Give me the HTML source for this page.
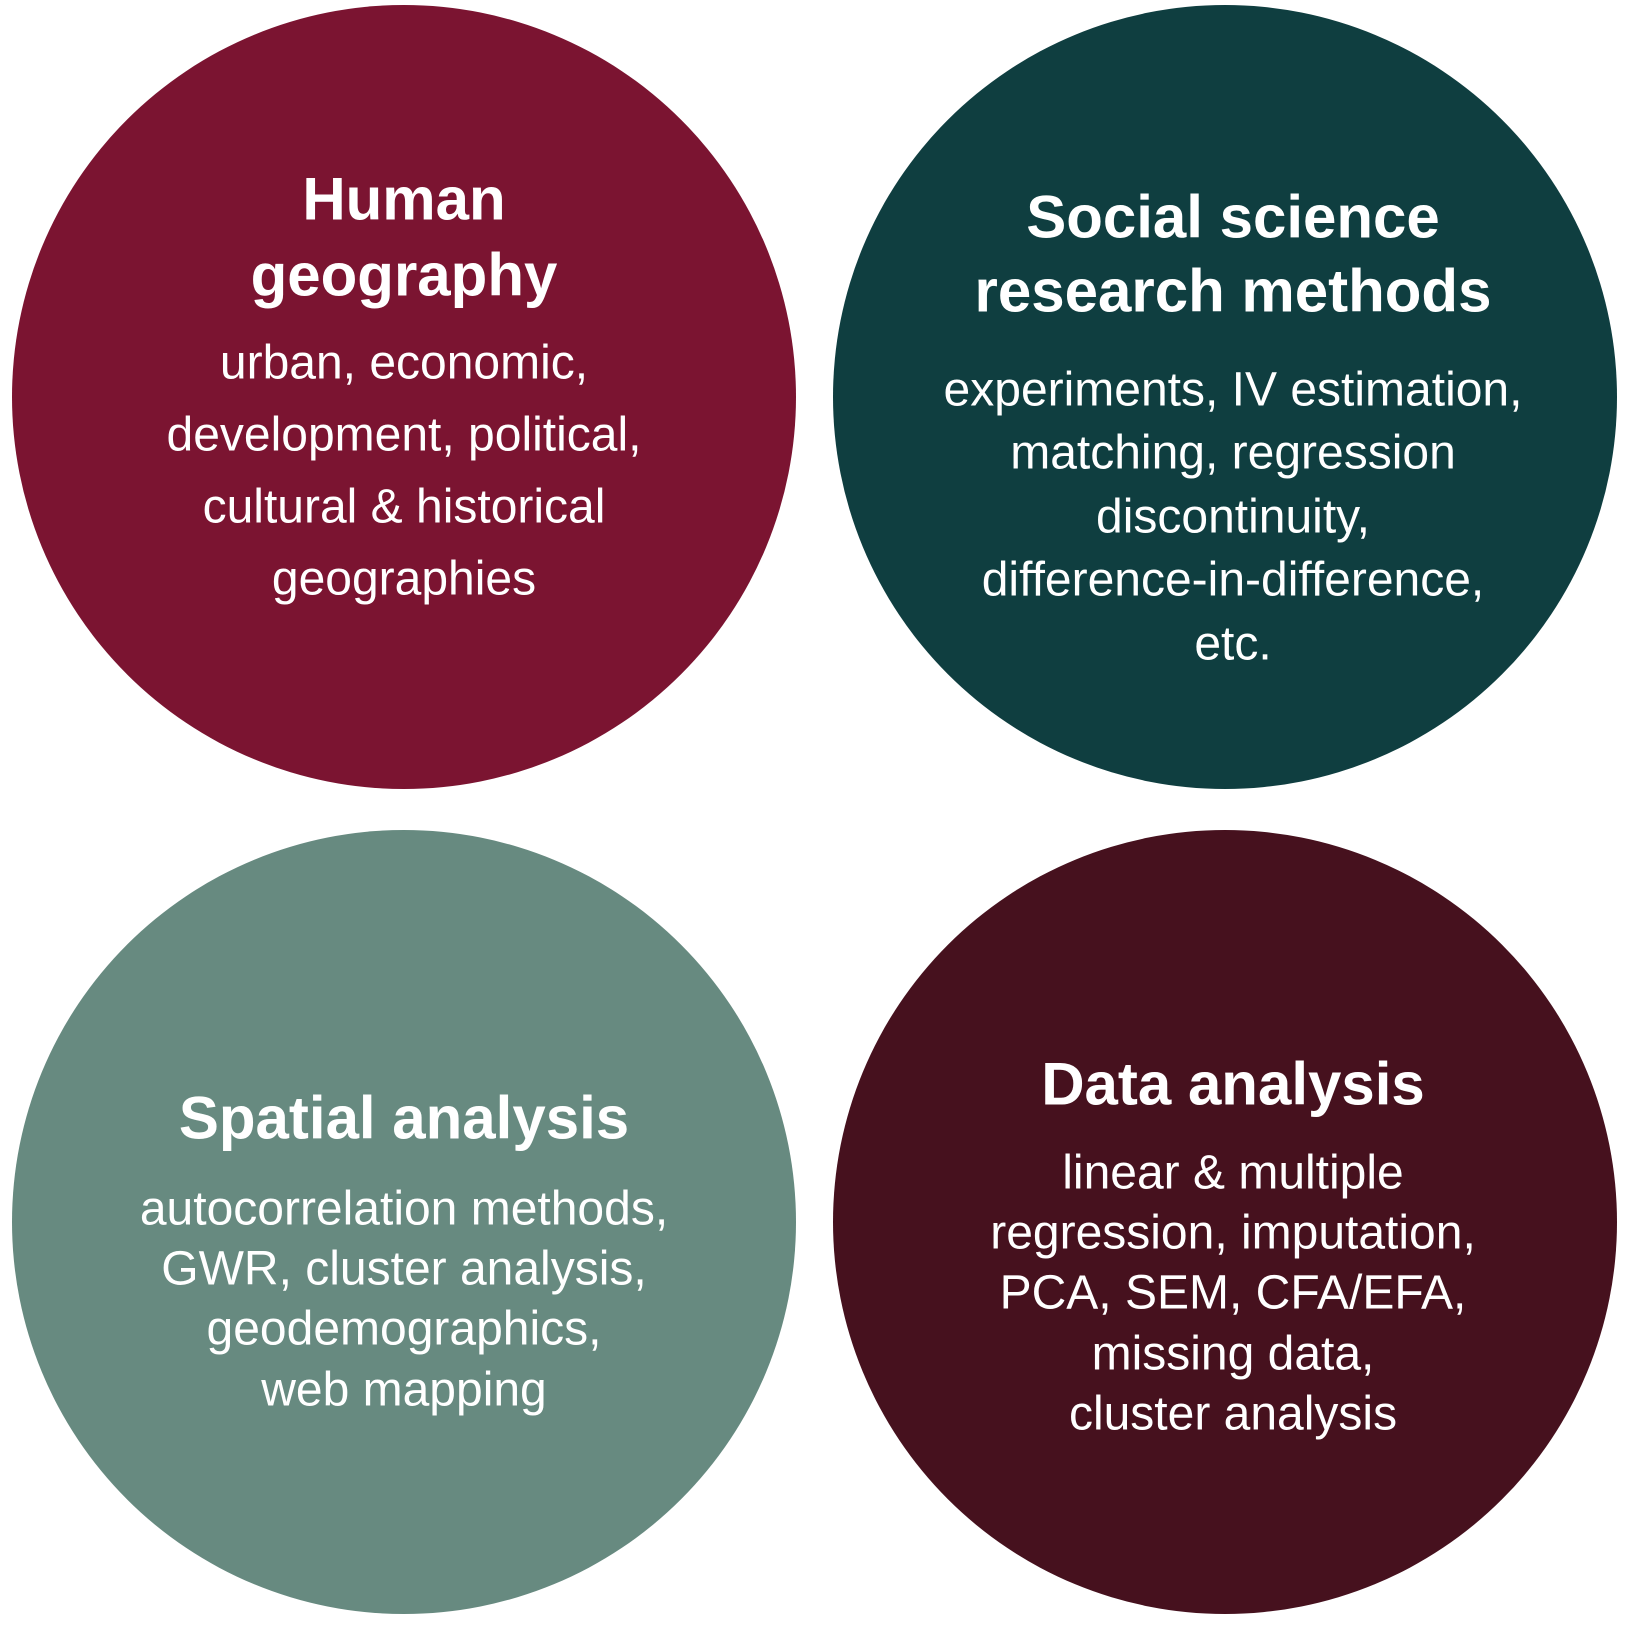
<!DOCTYPE html>
<html><head><meta charset="utf-8"><style>
html,body{margin:0;padding:0;background:#fff;width:1641px;height:1650px;overflow:hidden}
svg{display:block}
text{font-family:"Liberation Sans",Arial,sans-serif;fill:#fff;text-anchor:middle;dominant-baseline:central}
.t{font-weight:bold;font-size:60px}
.b{font-size:48px}
</style></head><body>
<svg width="1641" height="1650" viewBox="0 0 1641 1650">
<g>
<circle cx="404" cy="397" r="392" fill="#7b1431"/>
<text class="t" x="404" y="199">Human</text>
<text class="t" x="404" y="275">geography</text>
<text class="b" x="404" y="363">urban, economic,</text>
<text class="b" x="404" y="435">development, political,</text>
<text class="b" x="404" y="507">cultural &amp; historical</text>
<text class="b" x="404" y="579">geographies</text>
</g>
<g>
<circle cx="1225" cy="397" r="392" fill="#0f3e40"/>
<text class="t" x="1233" y="217">Social science</text>
<text class="t" x="1233" y="291">research methods</text>
<text class="b" x="1233" y="390">experiments, IV estimation,</text>
<text class="b" x="1233" y="453">matching, regression</text>
<text class="b" x="1233" y="517">discontinuity,</text>
<text class="b" x="1233" y="580">difference-in-difference,</text>
<text class="b" x="1233" y="644">etc.</text>
</g>
<g>
<circle cx="404" cy="1222" r="392" fill="#678a80"/>
<text class="t" x="404" y="1118">Spatial analysis</text>
<text class="b" x="404" y="1209">autocorrelation methods,</text>
<text class="b" x="404" y="1269">GWR, cluster analysis,</text>
<text class="b" x="404" y="1329">geodemographics,</text>
<text class="b" x="404" y="1390">web mapping</text>
</g>
<g>
<circle cx="1225" cy="1222" r="392" fill="#46111e"/>
<text class="t" x="1233" y="1084">Data analysis</text>
<text class="b" x="1233" y="1173">linear &amp; multiple</text>
<text class="b" x="1233" y="1233">regression, imputation,</text>
<text class="b" x="1233" y="1293">PCA, SEM, CFA/EFA,</text>
<text class="b" x="1233" y="1354">missing data,</text>
<text class="b" x="1233" y="1414">cluster analysis</text>
</g>
</svg>
</body></html>
